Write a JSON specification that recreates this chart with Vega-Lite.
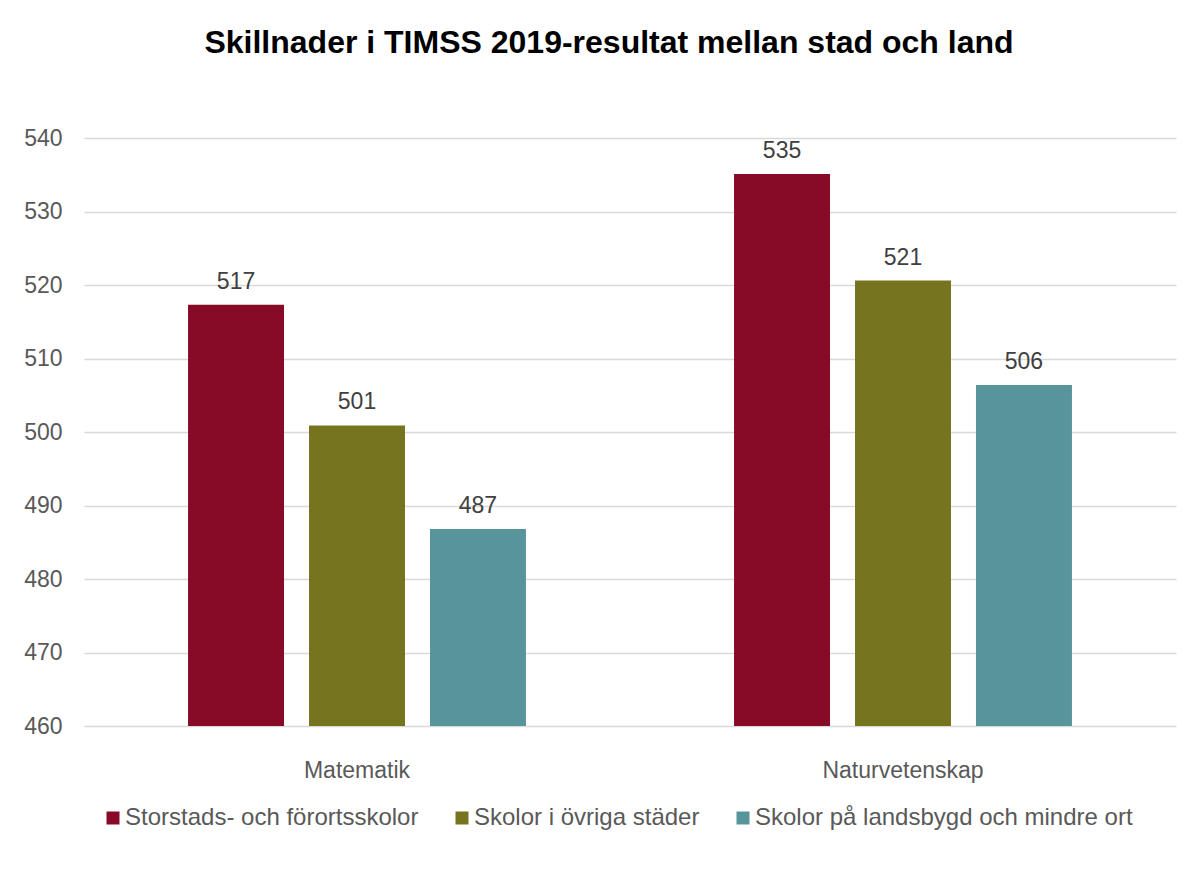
{
  "$schema": "https://vega.github.io/schema/vega-lite/v6.json",
  "width": 1092,
  "height": 588,
  "autosize": {"type": "none"},
  "padding": {"left": 84, "top": 138, "right": 15, "bottom": 147},
  "background": "#ffffff",
  "title": {
    "text": "Skillnader i TIMSS 2019-resultat mellan stad och land",
    "font": "Liberation Sans",
    "fontSize": 32,
    "fontWeight": "bold",
    "color": "#000000",
    "anchor": "middle",
    "frame": "group",
    "dx": -21,
    "offset": 67
  },
  "data": {
    "values": [
      {"subject": "Matematik", "group": "Storstads- och förortsskolor", "score": 517.3},
      {"subject": "Matematik", "group": "Skolor i övriga städer", "score": 500.9},
      {"subject": "Matematik", "group": "Skolor på landsbygd och mindre ort", "score": 486.8},
      {"subject": "Naturvetenskap", "group": "Storstads- och förortsskolor", "score": 535.1},
      {"subject": "Naturvetenskap", "group": "Skolor i övriga städer", "score": 520.6},
      {"subject": "Naturvetenskap", "group": "Skolor på landsbygd och mindre ort", "score": 506.4}
    ]
  },
  "encoding": {
    "x": {
      "field": "subject",
      "type": "nominal",
      "sort": ["Matematik", "Naturvetenskap"],
      "scale": {"paddingInner": 0, "paddingOuter": 0},
      "axis": {
        "title": null,
        "labelAngle": 0,
        "labelFont": "Liberation Sans",
        "labelFontSize": 23,
        "labelColor": "#595959",
        "ticks": false,
        "domain": false,
        "labelPadding": 33
      }
    },
    "xOffset": {
      "field": "group",
      "type": "nominal",
      "sort": ["Storstads- och förortsskolor", "Skolor i övriga städer", "Skolor på landsbygd och mindre ort"],
      "scale": {"paddingInner": 0.2066, "paddingOuter": 0.86}
    },
    "y": {
      "field": "score",
      "type": "quantitative",
      "scale": {"domain": [460, 540], "zero": false, "nice": false},
      "axis": {
        "title": null,
        "values": [460, 470, 480, 490, 500, 510, 520, 530, 540],
        "labelFont": "Liberation Sans",
        "labelFontSize": 23,
        "labelColor": "#595959",
        "ticks": false,
        "domain": false,
        "labelPadding": 22,
        "gridColor": "#d9d9d9",
        "gridWidth": 1.3
      }
    }
  },
  "layer": [
    {
      "mark": {"type": "bar", "clip": true},
      "encoding": {
        "color": {
          "field": "group",
          "type": "nominal",
          "sort": ["Storstads- och förortsskolor", "Skolor i övriga städer", "Skolor på landsbygd och mindre ort"],
          "scale": {
            "domain": ["Storstads- och förortsskolor", "Skolor i övriga städer", "Skolor på landsbygd och mindre ort"],
            "range": ["#870b27", "#777420", "#57959b"]
          },
          "legend": {
            "title": null,
            "orient": "none",
            "direction": "horizontal",
            "legendX": 17,
            "legendY": 668,
            "symbolType": "square",
            "symbolSize": 169,
            "symbolStrokeWidth": 0,
            "labelFont": "Liberation Sans",
            "labelFontSize": 24,
            "labelColor": "#595959",
            "labelOffset": 0,
            "columnPadding": 31,
            "labelLimit": 600
          }
        }
      }
    },
    {
      "mark": {
        "type": "text",
        "baseline": "alphabetic",
        "dy": -16,
        "font": "Liberation Sans",
        "fontSize": 23,
        "color": "#404040"
      },
      "encoding": {
        "text": {"field": "score", "type": "quantitative", "format": ".0f"}
      }
    }
  ],
  "config": {
    "view": {"stroke": null}
  }
}
